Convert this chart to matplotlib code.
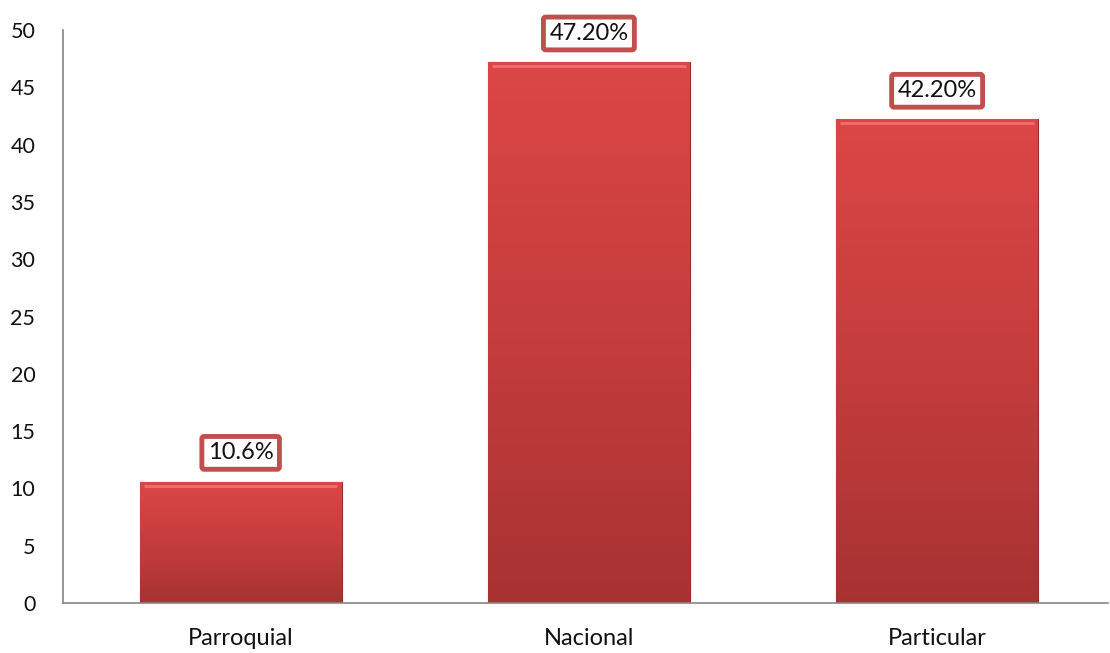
import matplotlib
matplotlib.use("Agg")
import matplotlib.pyplot as plt
import numpy as np
from matplotlib.colors import LinearSegmentedColormap

categories = ["Parroquial", "Nacional", "Particular"]
values = [10.6, 47.2, 42.2]
labels = ["10.6%", "47.20%", "42.20%"]

plt.rcParams['font.family'] = ['Lato', 'DejaVu Sans']

fig = plt.figure(figsize=(11.1, 6.53), dpi=100)
ax = fig.add_axes([0.0568, 0.0766, 0.9412, 0.8774])

x = np.arange(len(categories))
bars = ax.bar(x + 0.01, values, width=0.58, color="#c23c3c", edgecolor="#9a2a2a", linewidth=0.8, zorder=2)

# vertical gradient on each bar (lighter top, darker bottom)
cmap = LinearSegmentedColormap.from_list("redgrad", ["#a83232", "#c53d3d", "#dc4646"])
grad = np.linspace(0, 1, 256).reshape(-1, 1)
for b in bars:
    x0, w, h = b.get_x(), b.get_width(), b.get_height()
    im = ax.imshow(grad, cmap=cmap, aspect="auto", origin="lower",
                   extent=[x0, x0 + w, 0, h], zorder=2.5)
    im.set_clip_path(b)
    # bevel highlight at top
    ax.plot([x0 + 0.012, x0 + w - 0.012], [h - 0.35, h - 0.35], color="#ee7070", lw=2, zorder=3, solid_capstyle="butt")

for xi, v, lab in zip(x, values, labels):
    ax.text(xi + 0.01, v + 2.5, lab, ha="center", va="center", fontsize=17, color="#111111", zorder=4,
            bbox=dict(boxstyle="round,pad=0.25,rounding_size=0.1", facecolor="white", edgecolor="#c0504d", linewidth=3.5))

ax.set_xlim(-0.5, 2.5)
ax.set_ylim(0, 50)
ax.set_yticks(range(0, 51, 5))
ax.set_xticks(x + 0.01)
ax.set_xticklabels(categories)
ax.tick_params(axis="y", length=0, labelsize=15.5, colors="#111111", pad=20)
ax.tick_params(axis="x", length=0, labelsize=17, colors="#111111", pad=18)
for s in ["top", "right"]:
    ax.spines[s].set_visible(False)
ax.spines["left"].set_color("#868686")
ax.spines["bottom"].set_color("#868686")
ax.spines["left"].set_linewidth(1.2)
ax.spines["bottom"].set_linewidth(1.2)

fig.savefig("out.png", dpi=100)
